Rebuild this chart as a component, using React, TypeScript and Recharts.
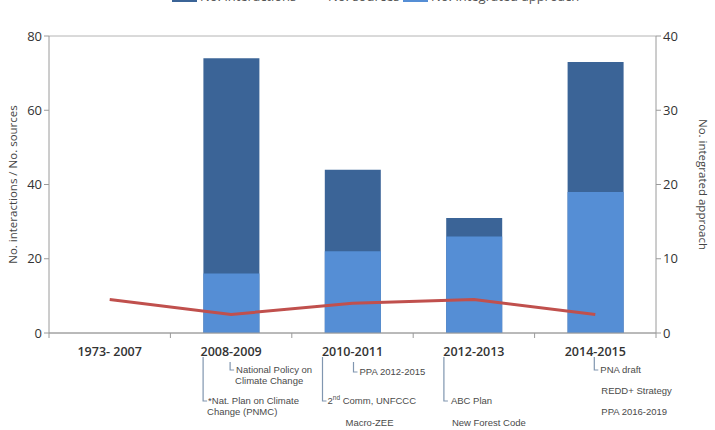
import React from "react";
import {
  ComposedChart,
  Bar,
  Line,
  XAxis,
  YAxis,
  CartesianGrid
} from "recharts";

const categories = ["1973- 2007", "2008-2009", "2010-2011", "2012-2013", "2014-2015"];
const interactions = [0, 74, 44, 31, 73];
const sources = [9, 5, 8, 9, 5];
const integratedApproach = [0, 8, 11, 13, 19];

const leftTicks = [0, 20, 40, 60, 80];
const rightTicks = [0, 10, 20, 30, 40];

// policy milestones listed under each period
const bracketNotes: string[][][] = [
  [],
  [["*Nat. Plan on Climate", "Change (PNMC)"], ["National Policy on", "Climate Change"]],
  [["2nd Comm, UNFCCC"], ["PPA 2012-2015"]],
  [["ABC Plan"]],
  [["PNA draft"]]
];
const plainNotes: string[][] = [[], [], ["Macro-ZEE"], ["New Forest Code"], ["REDD+ Strategy", "PPA 2016-2019"]];

const data = categories.map((period, i) => ({
  period,
  interactions: interactions[i],
  sources: sources[i],
  integrated: integratedApproach[i]
}));

const W = 715;
const H = 430;
const LEFT = 49;
const RIGHT = 59;
const TOP = 36;
const BOTTOM = 97;
const BAND = (W - LEFT - RIGHT) / categories.length;
const AXIS_Y = H - BOTTOM;

const DARK = "#3B6497";
const LIGHT = "#558ED5";
const RED = "#C0504D";
const GRID = "#B4B4B4";
const BRACKET = "#8096B0";
const NOTE_FONT = "'Liberation Sans', Arial, sans-serif";
const MAIN_FONT = "'Open Sans', 'Noto Sans', sans-serif";

// bracket layout per period: [line x offset, line top, line bottom, text x offset]
const bracketLayout: number[][][] = [
  [],
  [[-28, 357, 401, 5], [-1, 362, 370, 6]],
  [[-30, 357, 401, 5], [1, 362, 372, 6]],
  [[-30, 357, 401, 7]],
  [[-1, 357, 370, 6]]
];
const plainLayout: number[][] = [[], [], [-7, 422], [-22, 422], [6, 390]];

function NoteText({ x, y, text }: { x: number; y: number; text: string }) {
  const m = text.match(/^(\d)(nd|st|rd|th)(.*)$/);
  return (
    <text x={x} y={y} fontSize={9.5} fill="#4a4a4a" fontFamily={NOTE_FONT} dominantBaseline="central">
      {m ? (
        <>
          <tspan>{m[1]}</tspan>
          <tspan fontSize={6.5} dy={-3}>{m[2]}</tspan>
          <tspan dy={3}>{m[3]}</tspan>
        </>
      ) : (
        text
      )}
    </text>
  );
}

function PeriodTick(props: any) {
  const { x, payload, index } = props;
  const i = index as number;
  const left = x - BAND / 2;
  return (
    <g>
      <line x1={left} x2={left} y1={AXIS_Y} y2={AXIS_Y + 5} stroke="#9a9a9a" />
      {i === categories.length - 1 && (
        <line x1={x + BAND / 2} x2={x + BAND / 2} y1={AXIS_Y} y2={AXIS_Y + 5} stroke="#9a9a9a" />
      )}
      <text
        x={x}
        y={351}
        textAnchor="middle"
        dominantBaseline="central"
        fontSize={12.5}
        fontWeight={600}
        fill="#333"
        fontFamily={MAIN_FONT}
      >
        {payload.value}
      </text>
      {bracketNotes[i].map((lines, j) => {
        const [dx, y1, y2, tx] = bracketLayout[i][j];
        const lx = x + dx;
        return (
          <g key={j}>
            <polyline
              points={`${lx},${y1} ${lx},${y2} ${lx + 4},${y2}`}
              fill="none"
              stroke={BRACKET}
              strokeWidth={1.2}
            />
            {lines.map((t, k) => (
              <NoteText key={k} x={lx + tx - (k > 0 ? 1 : 0)} y={y2 - 1 + k * 11} text={t} />
            ))}
          </g>
        );
      })}
      {plainNotes[i].map((t, k) => (
        <NoteText key={`p${k}`} x={x + plainLayout[i][0]} y={plainLayout[i][1] + k * 21} text={t} />
      ))}
    </g>
  );
}

// legend strip sits at the very top edge, mostly above the frame
function TopLegend() {
  const item = (left: number, swatch: React.ReactNode, label: string) => (
    <span
      style={{
        position: "absolute",
        left,
        top: 0,
        display: "inline-flex",
        alignItems: "flex-end"
      }}
    >
      {swatch}
      <span style={{ marginLeft: 3 }}>{label}</span>
    </span>
  );
  return (
    <div
      style={{
        position: "absolute",
        top: -13,
        left: 0,
        width: W,
        height: 18,
        fontFamily: MAIN_FONT,
        fontSize: 13,
        lineHeight: "18px",
        color: "#555",
        whiteSpace: "nowrap"
      }}
    >
      {item(172, <span style={{ width: 25, height: 10, marginBottom: 3, background: DARK, display: "inline-block" }} />, "No. interactions")}
      {item(300, <span style={{ width: 25, height: 3, marginBottom: 7, background: RED, display: "inline-block" }} />, "No. sources")}
      {item(403, <span style={{ width: 25, height: 10, marginBottom: 3, background: LIGHT, display: "inline-block" }} />, "No. integrated approach")}
    </div>
  );
}

export default function App() {
  return (
    <div
      style={{
        position: "fixed",
        top: 0,
        left: 0,
        width: W,
        height: H,
        background: "#fff",
        overflow: "hidden"
      }}
    >
      <TopLegend />
      <ComposedChart
        width={W}
        height={H}
        data={data}
        margin={{ top: TOP, right: 0, bottom: 0, left: 0 }}
        barSize={56}
        barGap={-56}
      >
        <CartesianGrid vertical={false} stroke={GRID} />
        <XAxis
          dataKey="period"
          height={BOTTOM}
          interval={0}
          tickLine={false}
          tickSize={0}
          tickMargin={0}
          stroke="#9a9a9a"
          tick={<PeriodTick />}
        />
        <YAxis
          yAxisId="left"
          width={LEFT}
          domain={[0, 80]}
          ticks={leftTicks}
          stroke="#9a9a9a"
          tickSize={5}
          tick={{ fontSize: 13, fill: "#333", fontFamily: MAIN_FONT }}
          label={{
            value: "No. interactions  / No. sources",
            angle: -90,
            position: "insideLeft",
            dx: 8,
            style: { fontSize: 11.5, fill: "#444", fontFamily: MAIN_FONT, textAnchor: "middle" }
          }}
        />
        <YAxis
          yAxisId="right"
          orientation="right"
          width={RIGHT}
          domain={[0, 40]}
          ticks={rightTicks}
          stroke="#9a9a9a"
          tickSize={5}
          tick={{ fontSize: 13, fill: "#333", fontFamily: MAIN_FONT }}
          label={{
            value: "No. integrated approach",
            angle: 90,
            position: "insideRight",
            dx: -7,
            style: { fontSize: 11.5, fill: "#444", fontFamily: MAIN_FONT, textAnchor: "middle" }
          }}
        />
        <Bar yAxisId="left" dataKey="interactions" fill={DARK} isAnimationActive={false} />
        <Bar yAxisId="right" dataKey="integrated" fill={LIGHT} isAnimationActive={false} />
        <Line
          yAxisId="left"
          type="linear"
          dataKey="sources"
          stroke={RED}
          strokeWidth={3}
          dot={false}
          isAnimationActive={false}
        />
      </ComposedChart>
    </div>
  );
}
